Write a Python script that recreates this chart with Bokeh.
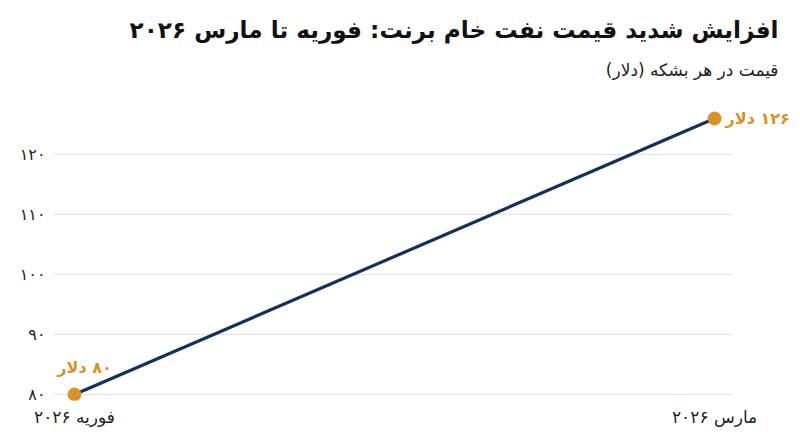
from bokeh.plotting import figure
from bokeh.models import Range1d, Label, FixedTicker, LinearAxis, Title
from bokeh.embed import file_html
from bokeh.resources import INLINE

RLM = "\u200f"

# Data
months = ["فوریه ۲۰۲۶", "مارس ۲۰۲۶"]
prices = [80, 126]
price_labels = ["۸۰ دلار", "۱۲۶ دلار"]
y_ticks = [80, 90, 100, 110, 120]
y_tick_labels = ["۸۰", "۹۰", "۱۰۰", "۱۱۰", "۱۲۰"]
title_text = "افزایش شدید قیمت نفت خام برنت: فوریه تا مارس ۲۰۲۶"
subtitle_text = "قیمت در هر بشکه (دلار)"

FONT = "DejaVu Sans"
NAVY = "#14315d"
ORANGE = "#d69227"

xs = list(range(len(months)))

p = figure(width=800, height=439, output_backend="svg", toolbar_location=None,
           x_range=Range1d(-0.0328, 1.028), y_range=Range1d(79, 128),
           min_border_left=53, min_border_right=68, min_border_top=106, min_border_bottom=39)
p.outline_line_color = None
p.background_fill_color = "white"
p.border_fill_color = "white"
p.title.visible = False

p.line(xs, prices, line_color=NAVY, line_width=3.2)
p.scatter(xs, prices, size=13, fill_color=ORANGE, line_color=ORANGE)

# y axis
p.yaxis.ticker = FixedTicker(ticks=y_ticks)
p.yaxis.major_label_overrides = {t: l for t, l in zip(y_ticks, y_tick_labels)}
p.yaxis.axis_line_color = None
p.yaxis.major_tick_line_color = None
p.yaxis.minor_tick_line_color = None
p.yaxis.major_tick_out = 0
p.yaxis.major_label_standoff = 8
p.yaxis.major_label_text_font = FONT
p.yaxis.major_label_text_font_size = "16px"
p.yaxis.major_label_text_color = "#222222"

# x axis
p.xaxis.ticker = FixedTicker(ticks=xs)
p.xaxis.major_label_overrides = {x: RLM + m for x, m in zip(xs, months)}
p.xaxis.axis_line_color = None
p.xaxis.major_tick_line_color = None
p.xaxis.minor_tick_line_color = None
p.xaxis.major_tick_out = 0
p.xaxis.major_label_standoff = 6
p.xaxis.major_label_text_font = FONT
p.xaxis.major_label_text_font_size = "17px"
p.xaxis.major_label_text_color = "#222222"

p.xgrid.grid_line_color = None
p.ygrid.ticker = FixedTicker(ticks=y_ticks)
p.ygrid.grid_line_color = "#e3e3e3"
p.ygrid.grid_line_width = 1

# value annotation for the first point
p.add_layout(Label(x=xs[0], y=prices[0], text=RLM + price_labels[0], x_offset=10, y_offset=27,
                   text_align="center", text_baseline="middle", text_font=FONT,
                   text_font_size="16px", text_font_style="bold", text_color=ORANGE))

# value annotation for the last point, as a right-side axis label at its value
end_axis = LinearAxis(ticker=FixedTicker(ticks=[prices[1]]),
                      major_label_overrides={prices[1]: RLM + price_labels[1]})
end_axis.axis_line_color = None
end_axis.major_tick_line_color = None
end_axis.minor_tick_line_color = None
end_axis.major_tick_out = 0
end_axis.major_tick_in = 0
end_axis.major_label_standoff = -7
end_axis.major_label_text_font = FONT
end_axis.major_label_text_font_size = "16px"
end_axis.major_label_text_font_style = "bold"
end_axis.major_label_text_color = ORANGE
p.add_layout(end_axis, "right")

# titles
p.add_layout(Title(text=RLM + subtitle_text + RLM, align="right", offset=-46, standoff=53,
                   text_font=FONT, text_font_size="17px", text_font_style="normal",
                   text_color="#222222"), "above")
p.add_layout(Title(text=RLM + title_text + RLM, align="right", offset=-46, standoff=-22,
                   text_font=FONT, text_font_size="23.2px", text_font_style="bold",
                   text_color="#111111"), "above")

open("out.html", "w").write(file_html(p, INLINE))
